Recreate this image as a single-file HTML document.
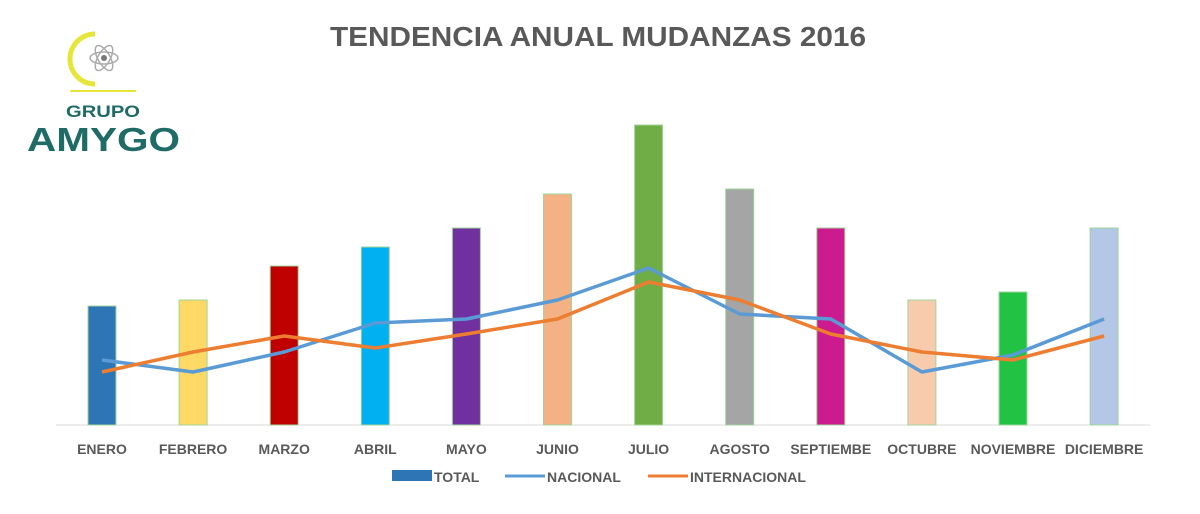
<!DOCTYPE html>
<html><head><meta charset="utf-8"><style>
body{margin:0;background:#fff;width:1200px;height:509px;overflow:hidden;font-family:"Liberation Sans",sans-serif}
</style></head><body>
<svg id="chart" width="1200" height="509" xmlns="http://www.w3.org/2000/svg">
<text x="330" y="46" textLength="536" lengthAdjust="spacingAndGlyphs" font-size="28" font-weight="bold" fill="#595959">TENDENCIA ANUAL MUDANZAS 2016</text>
<g>
<path d="M95 34 A24 24 0 1 0 95 84" fill="none" stroke="#e6e63a" stroke-width="5"/>
<line x1="70" y1="91" x2="136" y2="91" stroke="#e6e63a" stroke-width="2"/>
<ellipse cx="104" cy="58" rx="14" ry="6" fill="none" stroke="#aaa" stroke-width="1.5"/>
<ellipse cx="104" cy="58" rx="14" ry="6" fill="none" stroke="#aaa" stroke-width="1.5" transform="rotate(60 104 58)"/>
<ellipse cx="104" cy="58" rx="14" ry="6" fill="none" stroke="#aaa" stroke-width="1.5" transform="rotate(-60 104 58)"/>
<circle cx="104" cy="58" r="3" fill="#777"/>
<text x="66" y="117" textLength="74" lengthAdjust="spacingAndGlyphs" font-size="17" font-weight="bold" fill="#1f6b66">GRUPO</text>
<text x="27" y="151" textLength="153" lengthAdjust="spacingAndGlyphs" font-size="33" font-weight="bold" fill="#1f6b66">AMYGO</text>
</g>
<line x1="56" y1="425" x2="1150" y2="425" stroke="#d9d9d9"/>
<g id="marks"></g>
<g>
<rect x="392" y="470" width="40" height="11" fill="#2e75b6"/>
<text x="434" y="482" font-size="14" font-weight="bold" fill="#595959">TOTAL</text>
<line x1="505" y1="476" x2="545" y2="476" stroke="#5b9bd5" stroke-width="3"/>
<text x="547" y="482" font-size="14" font-weight="bold" fill="#595959">NACIONAL</text>
<line x1="648" y1="476" x2="688" y2="476" stroke="#ed7d31" stroke-width="3"/>
<text x="690" y="482" font-size="14" font-weight="bold" fill="#595959">INTERNACIONAL</text>
</g>
</svg>
<script>
const categories=["ENERO","FEBRERO","MARZO","ABRIL","MAYO","JUNIO","JULIO","AGOSTO","SEPTIEMBE","OCTUBRE","NOVIEMBRE","DICIEMBRE"];
const totalValues=[119,125,159,178,197,231,300,236,197,125,133,197];
const nacionalValues=[65,53,73,102,106,125,157,111,106,53,70,106];
const internacionalValues=[53,73,89,77,91,106,143,125,91,73,65,89];
const barColors=["#2e75b6","#ffd966","#c00000","#00b0f0","#7030a0","#f4b183","#70ad47","#a5a5a5","#cc1a8f","#f8cbad","#22c244","#b4c7e7"];
const NS="http://www.w3.org/2000/svg";
const g=document.getElementById('marks');
function xPos(i){return 102+i*91.1;}
function yPos(v){return 425-v;}
categories.forEach((c,i)=>{
 const r=document.createElementNS(NS,'rect');
 r.setAttribute('x',xPos(i)-14);r.setAttribute('y',yPos(totalValues[i]));
 r.setAttribute('width',28);r.setAttribute('height',425-yPos(totalValues[i]));
 r.setAttribute('fill',barColors[i]);r.setAttribute('stroke','#9fd49a');r.setAttribute('stroke-width','1');
 
 
 g.appendChild(r);
 const t=document.createElementNS(NS,'text');
 t.setAttribute('x',xPos(i));t.setAttribute('y',454);t.setAttribute('text-anchor','middle');
 t.setAttribute('font-size','14');t.setAttribute('font-weight','bold');t.setAttribute('fill','#595959');
 t.textContent=c;
 
 
 g.appendChild(t);
});
function line(vals,color,name){
 const p=document.createElementNS(NS,'polyline');
 p.setAttribute('points',vals.map((v,i)=>xPos(i)+','+yPos(v)).join(' '));
 p.setAttribute('fill','none');p.setAttribute('stroke',color);p.setAttribute('stroke-width','3.5');p.setAttribute('stroke-linejoin','round');
 
 
 g.appendChild(p);
}
line(nacionalValues,'#5b9bd5','line-nacional');
line(internacionalValues,'#ed7d31','line-internacional');
</script>
</body></html>
